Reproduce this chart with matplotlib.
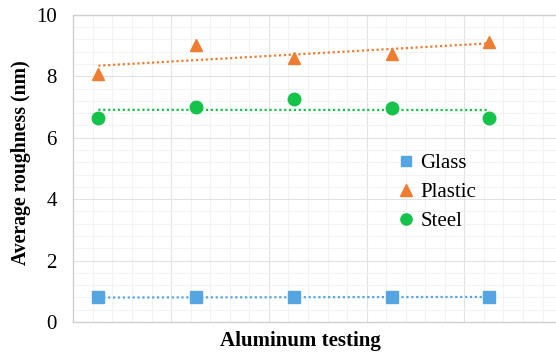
import numpy as np
import matplotlib
matplotlib.use("Agg")
import matplotlib.pyplot as plt
from matplotlib.ticker import MultipleLocator

plt.rcParams['font.family'] = ['Liberation Serif', 'DejaVu Serif']

# roughness per test run (nm)
runs = [1, 2, 3, 4, 5]
glass = [0.80, 0.80, 0.80, 0.81, 0.82]
plastic = [8.07, 9.02, 8.60, 8.74, 9.12]
steel = [6.65, 7.00, 7.25, 6.98, 6.65]

series = [
    ("Glass", glass, "s", "#55A5E2", 8.0),
    ("Plastic", plastic, "^", "#EE7D31", 9.0),
    ("Steel", steel, "o", "#15C24A", 9.0),
]

fig = plt.figure(figsize=(5.56, 3.55), dpi=100)
ax = fig.add_axes([0.132, 0.093, 0.879, 0.865])

x = np.array(runs, dtype=float)
for name, vals, marker, color, ms in series:
    # linear trendline through each series
    k, b = np.polyfit(x, vals, 1)
    ax.plot(x, k * x + b, linestyle=(0, (1, 1.2)), color=color, linewidth=1.6, zorder=2)
    ax.plot(x, vals, linestyle="none", marker=marker, markersize=ms,
            color=color, label=name, zorder=3)

ax.set_xlim(0.745, 5.745)
ax.set_ylim(0, 10)
ax.xaxis.set_major_locator(MultipleLocator(1.0, offset=0.745))
ax.xaxis.set_minor_locator(MultipleLocator(0.2, offset=0.145))
ax.yaxis.set_major_locator(MultipleLocator(2))
ax.yaxis.set_minor_locator(MultipleLocator(0.4))
ax.grid(which="major", color="#e2e2e2", linewidth=0.8)
ax.grid(which="minor", color="#f3f3f3", linewidth=0.8)
ax.set_axisbelow(True)

ax.tick_params(axis="x", which="both", length=0, labelbottom=False)
ax.tick_params(axis="y", which="both", length=0, labelsize=15, pad=12)
for sp in ax.spines.values():
    sp.set_color("#d0d0d0")
    sp.set_linewidth(1.0)

ax.set_xlabel("Aluminum testing", fontsize=15, fontweight="bold")
ax.xaxis.set_label_coords(0.464, -0.028, transform=ax.transAxes)
ax.xaxis.label.set_verticalalignment("top")
ax.set_ylabel("Average roughness (nm)", fontsize=14.2, fontweight="bold")
ax.yaxis.set_label_coords(-0.107, 0.52)
ax.yaxis.label.set_verticalalignment("center")

ax.legend(loc="upper left", bbox_to_anchor=(0.65, 0.575), frameon=False,
          fontsize=15, handlelength=0.6, handletextpad=0.4, labelspacing=0.45,
          borderaxespad=0, markerscale=0.9)

fig.savefig("out.png", dpi=100)
